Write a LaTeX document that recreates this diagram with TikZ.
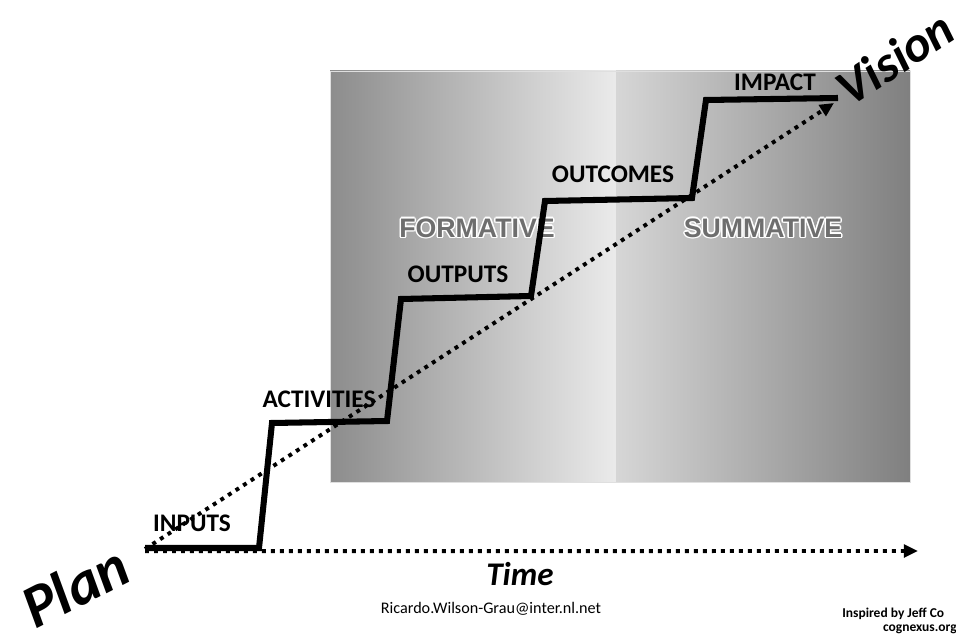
\documentclass[tikz,border=0pt]{standalone}
\usepackage{fontspec}
\setmainfont{Carlito}
\newfontfamily\arialfont{Liberation Sans}
\usetikzlibrary{arrows.meta}

\definecolor{formleft}{gray}{0.55}
\definecolor{formright}{gray}{0.92}
\definecolor{sumleft}{gray}{0.84}
\definecolor{sumright}{gray}{0.50}
\definecolor{phasegray}{gray}{0.43}

\tikzset{
  stair/.style={line width=4.3pt, line join=miter},
  dotline/.style={line width=2.8pt, dash pattern=on 2.8pt off 3.6pt, -{Triangle[length=10pt,width=9pt]}},
  steplabel/.style={font=\fontsize{18}{20}\selectfont\bfseries, inner sep=0pt},
  phase/.style={font=\fontsize{19}{21}\selectfont\arialfont\bfseries, inner sep=0pt},
}

\begin{document}
\begin{tikzpicture}[x=0.025cm,y=-0.025cm]
\useasboundingbox (0,0) rectangle (956,637);

%%%%%%%%%%%%%%%%%%%% Background panels %%%%%%%%%%%%%%%%%%%%
\shade[left color=formleft, right color=formright] (330,71) rectangle (616,482);
\shade[left color=sumleft, right color=sumright] (616,71) rectangle (910,482);
\draw[gray!25, line width=0.6pt] (330,71) rectangle (910,482);

%phase names with a light halo
\foreach \ang in {0,45,...,315}
{
    \node[phase, text=white, shift={(\ang:1.5)}] (fh\ang) at (477,228) {FORMATIVE};
    \node[phase, text=white, shift={(\ang:1.5)}] (sh\ang) at (763,228) {SUMMATIVE};
}
\node[phase, text=phasegray] (formative) at (477,228) {FORMATIVE};
\node[phase, text=phasegray] (summative) at (763,228) {SUMMATIVE};

%%%%%%%%%%%%%%%%%%%% Staircase %%%%%%%%%%%%%%%%%%%%
\coordinate (s0) at (145,548);
\coordinate (s1) at (259,548);
\coordinate (s2) at (272,423);
\coordinate (s3) at (387,421);
\coordinate (s4) at (401,299);
\coordinate (s5) at (531,296);
\coordinate (s6) at (545,201);
\coordinate (s7) at (692,198);
\coordinate (s8) at (706,100);
\coordinate (s9) at (838,98);
\draw[stair] (s0) -- (s1) -- (s2) -- (s3) -- (s4) -- (s5) -- (s6) -- (s7) -- (s8) -- (s9);

%step labels
\node[steplabel] (inputs) at (192,523) {INPUTS};
\node[steplabel] (activities) at (319,399) {ACTIVITIES};
\node[steplabel] (outputs) at (458,274) {OUTPUTS};
\node[steplabel] (outcomes) at (613,174) {OUTCOMES};
\node[steplabel] (impact) at (775,82) {IMPACT};

%%%%%%%%%%%%%%%%%%%% Axes %%%%%%%%%%%%%%%%%%%%
\coordinate (origin) at (145,549);
\coordinate (goal) at (834,103);
\coordinate (timeend) at (918,551);
\draw[dotline] (origin) -- (goal);
\draw[dotline] ([yshift=-1.5]origin) -- (timeend);

\node[rotate=27, font=\fontsize{43}{45}\selectfont\bfseries\itshape] (plan) at (75,586) {Plan};
\node[rotate=33, font=\fontsize{36}{38}\selectfont\bfseries\itshape] (vision) at (895,58) {Vision};
\node[font=\fontsize{23.5}{26}\selectfont\bfseries\itshape] (time) at (520,574) {Time};

%credits
\node[font=\fontsize{11.5}{13}\selectfont, anchor=base] (mail) at (491,613) {Ricardo.Wilson-Grau@inter.nl.net};
\node[font=\fontsize{9.6}{11}\selectfont\bfseries, anchor=base west, inner sep=0pt] (credit) at (842,617) {Inspired by Jeff Co};
\node[font=\fontsize{9.6}{11}\selectfont\bfseries, anchor=base east, inner sep=0pt] (site) at (957,631) {cognexus.org};

\end{tikzpicture}
\end{document}
